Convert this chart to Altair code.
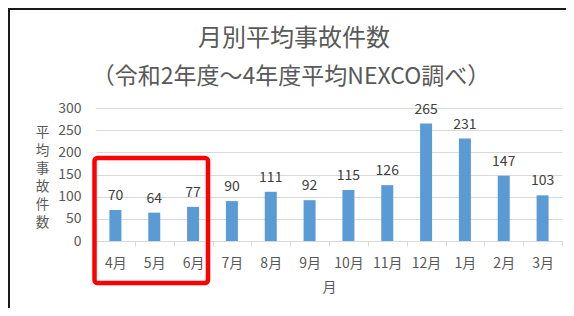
import altair as alt
import pandas as pd

months = ["4月", "5月", "6月", "7月", "8月", "9月", "10月", "11月", "12月", "1月", "2月", "3月"]
values = [70, 64, 77, 90, 111, 92, 115, 126, 265, 231, 147, 103]
y_ticks = [0, 50, 100, 150, 200, 250, 300]
title_line1 = "月別平均事故件数"
title_line2 = "（令和2年度～4年度平均NEXCO調べ）"
y_title = ["平", "均", "事", "故", "件", "数"]
x_title = "月"

df = pd.DataFrame({"month": months, "value": values})

FONT = "Noto Sans CJK JP"
GRAY = "#595959"

x_enc = alt.X("month:N", sort=months, title=x_title,
              scale=alt.Scale(paddingInner=0, paddingOuter=0),
              axis=alt.Axis(labelAngle=0, tickBand="extent", tickSize=5,
                            tickColor="#d9d9d9", domainColor="#d9d9d9",
                            labelPadding=10, labelFontSize=14, labelColor=GRAY,
                            labelFont=FONT, titleFont=FONT, titleFontSize=14,
                            titleColor=GRAY, titleFontWeight="normal",
                            titlePadding=10, grid=False, labelOverlap=False))
y_enc = alt.Y("value:Q", scale=alt.Scale(domain=[0, 300]), title=y_title,
              axis=alt.Axis(values=y_ticks, ticks=False, domain=False,
                            gridColor="#d9d9d9", labelPadding=15,
                            labelOverlap=False,
                            labelFontSize=14, labelColor=GRAY, labelFont=FONT,
                            titleFont=FONT, titleFontSize=13.5, titleColor=GRAY,
                            titleFontWeight="normal", titleAngle=0,
                            titleAlign="center", titleBaseline="middle",
                            titleLineHeight=18, titleX=-54, titleY=24))

bars = alt.Chart(df).mark_bar(size=12, color="#5B9BD5").encode(x=x_enc, y=y_enc)
labels = alt.Chart(df).mark_text(baseline="bottom", dy=-7, fontSize=14,
                                 font=FONT, color="#404040").encode(
    x=x_enc, y=y_enc, text="value:Q")

deco = pd.DataFrame({"k": [0]})
title1 = alt.Chart(deco).mark_text(font=FONT, fontSize=24, color=GRAY,
                                   align="center", baseline="middle").encode(
    x=alt.value(198), y=alt.value(-69), text=alt.value(title_line1))
title2 = alt.Chart(deco).mark_text(font=FONT, fontSize=23, color=GRAY,
                                   align="center", baseline="middle").encode(
    x=alt.value(195), y=alt.value(-31), text=alt.value(title_line2))
frame_top = alt.Chart(deco).mark_rule(color="#1a1a1a", strokeWidth=2).encode(
    x=alt.value(-88), x2=alt.value(480), y=alt.value(-99))
frame_left = alt.Chart(deco).mark_rule(color="#1a1a1a", strokeWidth=2).encode(
    x=alt.value(-87), y=alt.value(-100), y2=alt.value(210))
highlight = alt.Chart(deco).mark_rect(fill=None, filled=False, stroke="#ff0000",
                                      strokeWidth=4.5, cornerRadius=3).encode(
    x=alt.value(-1.5), x2=alt.value(112), y=alt.value(50), y2=alt.value(175))

chart = alt.layer(bars, labels, title1, title2, frame_top, frame_left,
                  highlight).properties(
    width=466, height=133,
    padding={"left": 88, "top": 100, "right": 4, "bottom": 67},
    autosize=alt.AutoSizeParams(type="none"),
).configure_view(stroke=None)

chart.save("out.html", embed_options={"renderer": "svg", "actions": False})
